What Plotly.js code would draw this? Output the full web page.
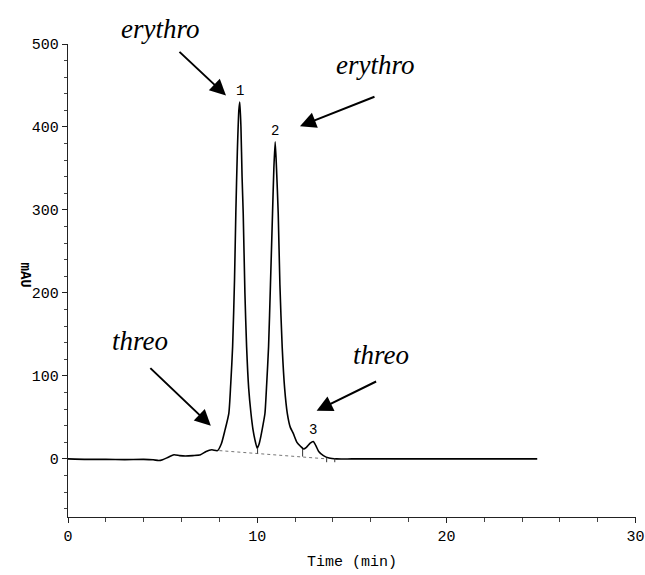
<!DOCTYPE html>
<html>
<head>
<meta charset="utf-8">
<script src="https://cdn.plot.ly/plotly-3.0.1.min.js"></script>
<style>
  html, body { margin: 0; padding: 0; background: #fff; }
  #chart { width: 645px; height: 575px; }
</style>
</head>
<body>
<div id="chart"></div>
<script>
// HPLC trace: retention time (min) vs. absorbance (mAU)
const timeMin = [
  0, 1, 2, 3, 4, 4.5, 4.8, 5.0, 5.3, 5.6, 5.9, 6.2, 6.6, 7.0, 7.3, 7.6, 7.9,
  8.1, 8.3, 8.5, 8.6, 8.7, 8.8, 8.87, 8.95, 9.03, 9.08, 9.14, 9.2, 9.26, 9.35,
  9.44, 9.55, 9.67, 9.78, 9.88, 10.0, 10.1, 10.2, 10.3, 10.41, 10.5, 10.6, 10.7,
  10.81, 10.88, 10.95, 11.02, 11.11, 11.2, 11.32, 11.45, 11.59, 11.75, 11.9,
  12.1, 12.3, 12.45, 12.6, 12.8, 12.96, 13.1, 13.25, 13.5, 13.8, 14.2, 15, 17,
  19, 21, 23, 24.8
];
const absorbance = [
  0, -0.5, -0.5, -0.8, -0.5, -1, -2, -1, 2, 5, 4, 3.5, 4, 5, 9, 11, 10,
  18, 35, 55, 90, 135, 215, 296, 370, 420, 430, 400, 340, 296, 200,
  135, 85, 55, 35, 23, 13, 18, 28, 40, 55, 90, 135, 210,
  296, 350, 382, 350, 296, 210, 135, 85, 55, 38, 31,
  20, 15, 12, 14, 19, 21, 16, 9, 4, 1, 0, 0, 0,
  0, 0, 0, 0
];

// integration baseline under peaks 1-3
const baselineTime = [8.0, 13.7];
const baselineValue = [10, 0];

// drop lines and peak-end marks
const dropTime = [10.02, 12.4, 13.67, 14.1];
const dropTop = [13, 12, 1, 1];
const dropBottom = [6.5, 2.8, -4, -4];

// peak numbers
const peakTime = [9.08, 10.95, 12.96];
const peakHeight = [430, 382, 21];
const peakLabel = ['1', '2', '3'];

// assignment labels with arrows
const tagText = ['erythro', 'erythro', 'threo', 'threo'];
const tagTipTime = [8.35, 12.26, 7.55, 13.14];
const tagTipValue = [438, 401, 40, 58];

const dropX = [], dropY = [];
dropTime.forEach((t, i) => {
  dropX.push(t, t, null);
  dropY.push(dropTop[i], dropBottom[i], null);
});

const traces = [
  {
    x: timeMin, y: absorbance, type: 'scatter', mode: 'lines',
    line: { color: '#000', width: 1.6, shape: 'spline', smoothing: 0.6 },
    hoverinfo: 'skip'
  },
  {
    x: baselineTime, y: baselineValue, type: 'scatter', mode: 'lines',
    line: { color: '#777', width: 1, dash: 'dot' }, hoverinfo: 'skip'
  },
  {
    x: dropX, y: dropY, type: 'scatter', mode: 'lines',
    line: { color: '#333', width: 1 }, hoverinfo: 'skip'
  }
];

const mono = 'Liberation Mono, Courier New, monospace';
const serif = 'Liberation Serif, Times New Roman, serif';

const annotations = [];
peakTime.forEach((t, i) => {
  annotations.push({
    x: t, y: peakHeight[i], xref: 'x', yref: 'y', text: peakLabel[i],
    showarrow: false, yanchor: 'bottom', yshift: 1,
    font: { family: mono, size: 14, color: '#000' }
  });
});

// text offsets (px) from arrow tip, and arrow tail offsets
const tagTextDx = [-66, 75, -71, 64];
const tagTextDy = [-66, -61, -85, -56];
const tagTailDx = [-48, 76, -62, 61];
const tagTailDy = [-45, -30, -59, -30];
tagText.forEach((txt, i) => {
  annotations.push({
    x: tagTipTime[i], y: tagTipValue[i], xref: 'x', yref: 'y',
    text: '', showarrow: true, arrowhead: 2, arrowsize: 1.6, arrowwidth: 2,
    arrowcolor: '#000', ax: tagTailDx[i], ay: tagTailDy[i]
  });
  annotations.push({
    x: tagTipTime[i], y: tagTipValue[i], xref: 'x', yref: 'y',
    text: '<i>' + txt + '</i>', showarrow: false,
    xshift: tagTextDx[i], yshift: -tagTextDy[i],
    font: { family: serif, size: 27, color: '#000' }
  });
});

// rotated y-axis title
annotations.push({
  x: 0, y: 0.5, xref: 'paper', yref: 'paper', xshift: -53, yshift: 6, text: '<b>mAU</b>',
  textangle: 90, showarrow: false,
  font: { family: mono, size: 14, color: '#000' }
});

const layout = {
  width: 645, height: 575,
  margin: { l: 68, r: 9, t: 44, b: 58 },
  paper_bgcolor: '#fff', plot_bgcolor: '#fff',
  showlegend: false,
  xaxis: {
    range: [0, 30.02], tickvals: [0, 10, 20, 30], ticktext: ['0', '10', '20', '30'],
    ticklabeloverflow: 'allow',
    showgrid: false, zeroline: false,
    showline: true, linecolor: '#222', linewidth: 1.2,
    ticks: 'outside', ticklen: 5, tickcolor: '#222',
    minor: { tickvals: [2, 4, 6, 8, 12, 14, 16, 18, 22, 24, 26, 28], ticks: 'outside', ticklen: 4, tickcolor: '#444', showgrid: false },
    tickfont: { family: mono, size: 15, color: '#000' },
    title: { text: 'Time (min)', font: { family: mono, size: 15, color: '#000' }, standoff: 10 }
  },
  yaxis: {
    range: [-70, 500], dtick: 100, tick0: 0,
    showgrid: false, zeroline: false,
    showline: true, linecolor: '#222', linewidth: 1.2,
    ticks: 'outside', ticklen: 5, tickcolor: '#222',
    minor: { dtick: 20, ticks: 'outside', ticklen: 3, tickcolor: '#444', showgrid: false },
    tickfont: { family: mono, size: 15, color: '#000' }
  },
  annotations: annotations
};

Plotly.newPlot('chart', traces, layout, { staticPlot: true, displayModeBar: false });
</script>
</body>
</html>
